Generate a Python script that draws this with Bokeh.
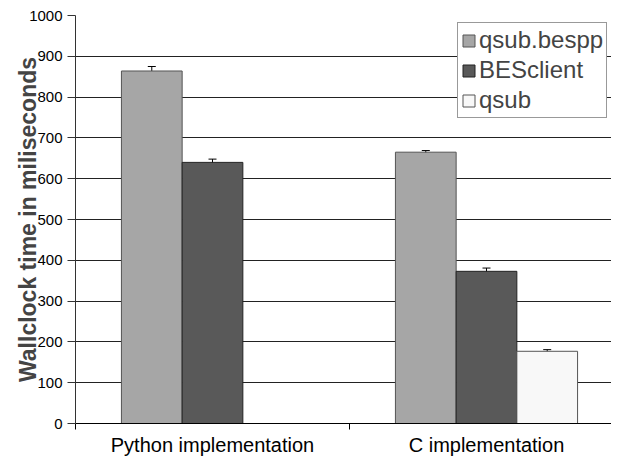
from bokeh.plotting import figure
from bokeh.models import (ColumnDataSource, Range1d, FixedTicker, Whisker, Legend, LegendItem, TeeHead)
from bokeh.embed import file_html
from bokeh.resources import INLINE

categories = ["Python implementation", "C implementation"]
series = ["qsub.bespp", "BESclient", "qsub"]
values = {
    "qsub.bespp": [864, 665],
    "BESclient": [640, 373],
    "qsub": [0, 177],
}
errors = {
    "qsub.bespp": [11, 4],
    "BESclient": [8, 8],
    "qsub": [0, 4],
}
colors = {"qsub.bespp": "#a6a6a6", "BESclient": "#595959", "qsub": "#f8f8f8"}
outlines = {"qsub.bespp": "#555555", "BESclient": "#222222", "qsub": "#555555"}
y_ticks = list(range(0, 1001, 100))

FONT = "Liberation Sans"

W, H = 611, 458
LEFT, TOP, BOTTOM = 75, 15, 424

p = figure(width=W, height=H, output_backend="svg", toolbar_location=None,
           x_range=Range1d(0, (W - LEFT) / 274), y_range=Range1d(0, 1000),
           min_border_left=LEFT, min_border_right=0, min_border_top=TOP,
           min_border_bottom=H - BOTTOM)
p.outline_line_color = None
p.background_fill_color = "white"
p.border_fill_color = "white"

bar_w = 0.2216
offsets = [-bar_w, 0, bar_w]
items = []
for s, off in zip(series, offsets):
    xs = [i + 0.5 + off for i in range(len(categories))]
    vals = values[s]
    errs = errors[s]
    keep = [k for k, v in enumerate(vals) if v > 0]
    src = ColumnDataSource(dict(
        x=[xs[k] for k in keep],
        top=[vals[k] for k in keep],
        lower=[vals[k] - errs[k] for k in keep],
        upper=[vals[k] + errs[k] for k in keep],
    ))
    r = p.vbar(x="x", top="top", width=bar_w, bottom=0, source=src,
               fill_color=colors[s], line_color=outlines[s], line_width=1)
    w = Whisker(base="x", lower="lower", upper="upper", source=src,
                line_color="black", line_width=1,
                upper_head=TeeHead(size=8, line_color="black", line_width=1),
                lower_head=TeeHead(size=8, line_color="black", line_width=1))
    p.add_layout(w)
    items.append(LegendItem(label=s, renderers=[r]))

# y axis
p.yaxis.ticker = FixedTicker(ticks=y_ticks)
p.yaxis.minor_tick_line_color = None
p.yaxis.major_tick_out = 8
p.yaxis.major_tick_in = 0
p.yaxis.axis_line_color = "#333333"
p.yaxis.major_tick_line_color = "#333333"
p.yaxis.major_label_text_font = FONT
p.yaxis.major_label_text_font_size = "15px"
p.yaxis.major_label_text_color = "black"
p.yaxis.major_label_standoff = 5
p.yaxis.axis_label = "Wallclock time in miliseconds"
p.yaxis.axis_label_text_font = FONT
p.yaxis.axis_label_text_font_style = "bold"
p.yaxis.axis_label_text_font_size = "23px"
p.yaxis.axis_label_standoff = -15

# x axis
p.xaxis.ticker = FixedTicker(ticks=[0.5, 1.5], minor_ticks=[0, 1, 2])
p.xaxis.major_label_overrides = {0.5: categories[0], 1.5: categories[1]}
p.xaxis.major_tick_out = 0
p.xaxis.major_tick_in = 0
p.xaxis.minor_tick_out = 6
p.xaxis.minor_tick_in = 0
p.xaxis.minor_tick_line_color = "black"
p.xaxis.axis_line_color = "black"
p.xaxis.major_label_text_font = FONT
p.xaxis.major_label_text_font_size = "20px"
p.xaxis.major_label_text_color = "black"
p.xaxis.major_label_standoff = 4

p.xgrid.grid_line_color = None
p.ygrid.ticker = FixedTicker(ticks=y_ticks)
p.ygrid.grid_line_color = "#222222"
p.ygrid.grid_line_width = 1

legend = Legend(items=items, location=(382, 305))
legend.label_text_font = FONT
legend.label_text_font_size = "24px"
legend.glyph_width = 15
legend.glyph_height = 15
legend.label_height = 24
legend.label_standoff = 3
legend.spacing = 2
legend.padding = 3
legend.margin = 0
legend.border_line_color = "#333333"
legend.border_line_width = 1
legend.background_fill_alpha = 1
p.add_layout(legend, "center")

open("out.html", "w").write(file_html(p, INLINE))
